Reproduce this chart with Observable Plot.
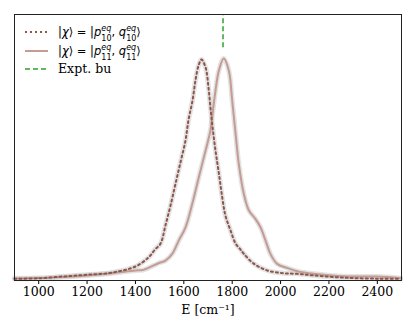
<!DOCTYPE html>
<html><head><meta charset="utf-8">
<script src="https://cdn.jsdelivr.net/npm/d3@7"></script>
<script src="https://cdn.jsdelivr.net/npm/@observablehq/plot@0.6"></script>
<style>body{margin:0;background:#fff}#c{position:relative;width:415px;height:333px}
#c svg, #c svg text{font-family:"DejaVu Serif","Liberation Serif",serif}
</style>
</head><body><div id="c"></div>
<script>
// Series p10 (dotted)
const E10 = [900,1000,1100,1200,1300,1400,1450,1462,1481,1504,1524,1545,1566,1586,1607,1619,1636,1648,1661,1673,1690,1702,1710,1719,1731,1745,1759,1772,1793,1814,1834,1847,1888,1946,2012,2070,2136,2277,2413,2496];
const I10 = [0.008,0.010,0.018,0.026,0.035,0.063,0.100,0.113,0.140,0.167,0.248,0.338,0.438,0.532,0.632,0.722,0.812,0.902,0.970,0.997,0.961,0.871,0.780,0.690,0.586,0.483,0.374,0.293,0.226,0.167,0.140,0.122,0.077,0.045,0.033,0.030,0.023,0.012,0.008,0.008];
// Series p11 (solid)
const E11 = [900,1000,1100,1200,1300,1400,1433,1495,1524,1552,1579,1607,1635,1662,1690,1710,1717,1731,1745,1765,1786,1800,1814,1827,1848,1869,1896,1917,1938,1958,1986,2027,2069,2137,2275,2399,2496];
const I11 = [0.009,0.011,0.016,0.023,0.033,0.045,0.048,0.078,0.090,0.120,0.180,0.240,0.346,0.466,0.586,0.677,0.737,0.857,0.947,1.001,0.947,0.812,0.663,0.528,0.391,0.316,0.278,0.240,0.180,0.120,0.075,0.057,0.042,0.030,0.018,0.018,0.010];
const exptE = 1762;
const xTicks = [1000,1200,1400,1600,1800,2000,2200,2400];
const legendLabels = [["10","10"],["11","11"],"Expt. bu"];

const d10 = E10.map((e,i)=>({E:e, I:I10[i]}));
const d11 = E11.map((e,i)=>({E:e, I:I11[i]}));

const plot = Plot.plot({
  width: 415, height: 333,
  marginLeft: 14, marginRight: 14, marginTop: 14, marginBottom: 53,
  style: {fontFamily: "'DejaVu Serif', 'Liberation Serif', serif", fontSize: "12.5px", background: "white", color: "#000"},
  x: {domain: [900, 2500]},
  y: {domain: [0, 1.2], axis: null},
  marks: [
    Plot.line(d10, {x: "E", y: "I", stroke: "#c8c8c8", strokeOpacity: 0.5, strokeWidth: 5, curve: "catmull-rom"}),
    Plot.line(d11, {x: "E", y: "I", stroke: "#c8c8c8", strokeOpacity: 0.5, strokeWidth: 5, curve: "catmull-rom"}),
    Plot.line(d11, {x: "E", y: "I", stroke: "#c49c94", strokeWidth: 2, curve: "catmull-rom"}),
    Plot.line(d10, {x: "E", y: "I", stroke: "#8c564b", strokeWidth: 2, strokeDasharray: "2,3", curve: "catmull-rom"}),
    Plot.ruleX([exptE], {y1: 1.05, y2: 1.2, stroke: "#2ca02c", strokeWidth: 1.5, strokeDasharray: "5,3"}),
    Plot.axisX({ticks: xTicks, tickSize: 4, tickPadding: 3, tickFormat: d => String(d), label: null, fontSize: 12.5}),
    Plot.text(["E [cm⁻¹]"], {frameAnchor: "bottom", dy: 33, fontSize: 12.5, fill: "#000"}),
    Plot.frame({stroke: "#222", strokeWidth: 1})
  ]
});
document.getElementById("c").appendChild(plot);

// legend
const svg = d3.select(plot);
const g = svg.append("g").attr("text-anchor", "start");
const rows = [32, 51, 69];
g.append("line").attr("x1",25).attr("x2",48).attr("y1",rows[0]).attr("y2",rows[0]).attr("stroke","#8c564b").attr("stroke-width",2).attr("stroke-dasharray","2,3");
g.append("line").attr("x1",25).attr("x2",48).attr("y1",rows[1]).attr("y2",rows[1]).attr("stroke","#c49c94").attr("stroke-width",2);
g.append("line").attr("x1",25).attr("x2",48).attr("y1",rows[2]).attr("y2",rows[2]).attr("stroke","#2ca02c").attr("stroke-width",1.5).attr("stroke-dasharray","5,3");

function piece(x, y, txt, size, italic){
  const t = g.append("text").attr("x",x).attr("y",y).attr("text-anchor","start")
    .attr("style", "font-family:'DejaVu Sans',sans-serif !important;font-size:"+size+"px;font-style:"+(italic?"italic":"normal"))
    .attr("fill","#000").text(txt);
  return t.node().getComputedTextLength();
}
function mathLabel(y, sub){
  let x = 58;
  const b = y + 4;
  x += piece(x, b, "|", 11.5, false);
  x += piece(x, b, "χ", 11.5, true);
  x += piece(x, b, "⟩ = |", 11.5, false);
  x += piece(x, b, "p", 11.5, true);
  let w1 = piece(x, b-5.5, "eq", 8, true);
  let w2 = piece(x, b+4.5, sub[0], 8, false);
  x += Math.max(w1,w2);
  x += piece(x, b, ", ", 11.5, false);
  x += piece(x, b, "q", 11.5, true);
  w1 = piece(x, b-5.5, "eq", 8, true);
  w2 = piece(x, b+4.5, sub[1], 8, false);
  x += Math.max(w1,w2);
  piece(x, b, "⟩", 11.5, false);
}
mathLabel(rows[0], legendLabels[0]);
mathLabel(rows[1], legendLabels[1]);
g.append("text").attr("x",58).attr("y",rows[2]+4).attr("text-anchor","start")
  .attr("style","font-family:'DejaVu Serif','Liberation Serif',serif;font-size:12.5px").attr("fill","#000").text(legendLabels[2]);
</script></body></html>
